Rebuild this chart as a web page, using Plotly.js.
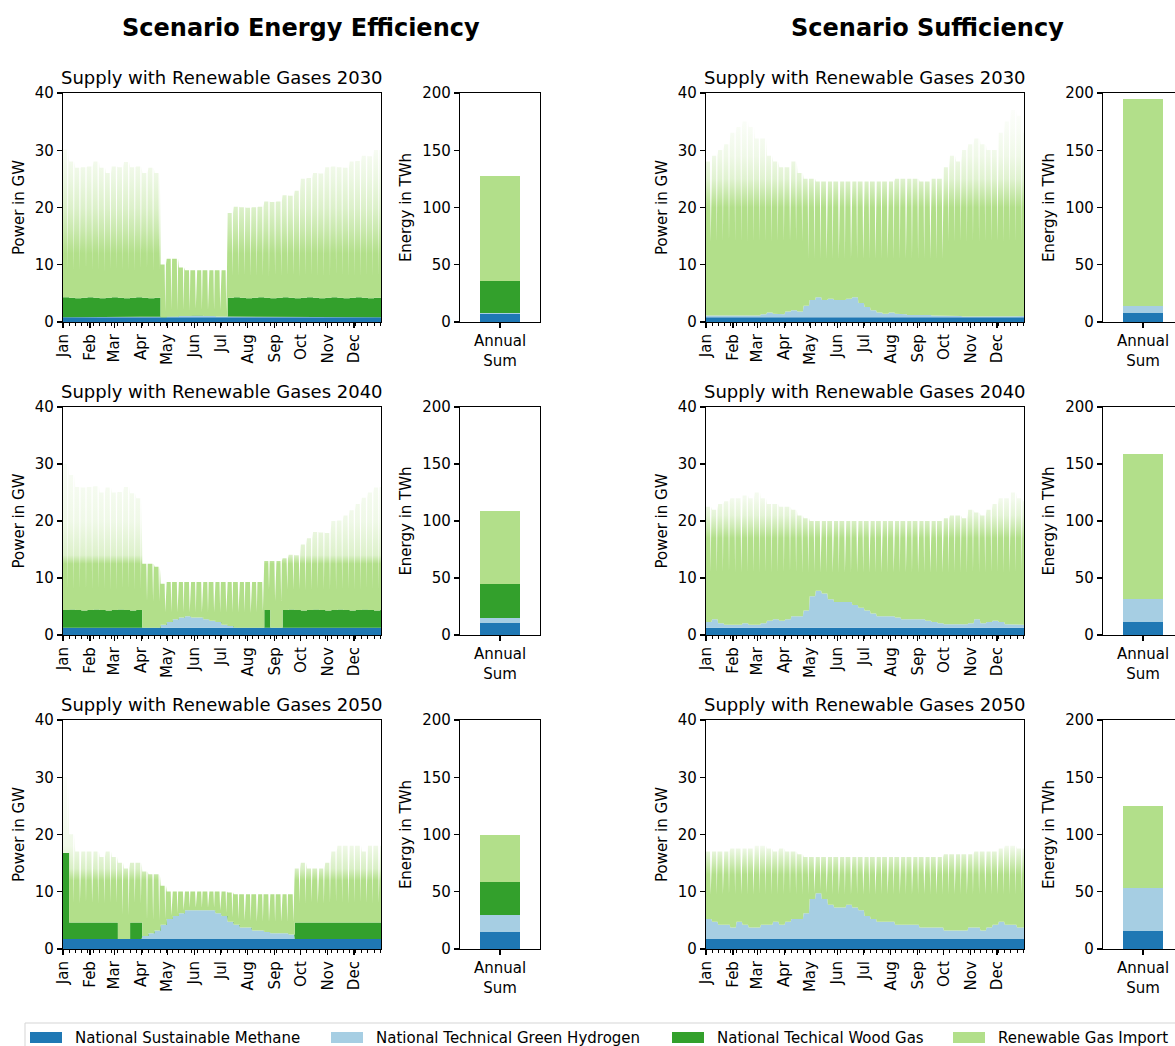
<!DOCTYPE html>
<html>
<head>
<meta charset="utf-8">
<script src="https://cdn.plot.ly/plotly-3.0.1.min.js"></script>
<style>
html,body{margin:0;padding:0;overflow:hidden;background:#ffffff;}
#chart{width:1190px;height:1046px;}
</style>
</head>
<body>
<div id="chart"></div>
<script>
// ---------------- DATA ----------------
const seriesNames = ['National Sustainable Methane','National Technical Green Hydrogen','National Techical Wood Gas','Renewable Gas Import'];
const seriesColors = ['#1f78b4','#a6cee3','#33a02c','#b2df8a'];
const scenarioTitles = ['Scenario Energy Efficiency','Scenario Sufficiency'];
const years = ['2030','2040','2050'];
const barCategory = ['Annual<br>Sum'];

// Annual sums in TWh, order: EE2030, EE2040, EE2050, SS2030, SS2040, SS2050
const barMethane  = [7.3, 10.8, 15.2, 7.5, 11.2, 15.5];
const barHydrogen = [0.2, 4.4, 14.1, 6.8, 20.2, 37.8];
const barWood     = [28.1, 29.3, 29.0, 0, 0, 0];
const barImport   = [92.0, 64.7, 41.3, 180.7, 127.2, 71.6];

// Constant methane feed-in in GW (same order)
const methaneGW = [0.84, 1.28, 1.75, 0.84, 1.28, 1.75];

// Weekly power in GW (53 weeks, starting 1 Jan); imp = weekly level, dip = weekend low of the import
const h2_EE2030 = [0,0,0,0,0,0,0,0,0,0,0,0,0,0,0,0, 0,0.1,0.1,0.2,0.2,0.3,0.3,0.2,0.2,0.1,0.1, 0,0,0,0,0,0,0,0,0,0,0,0,0,0,0,0,0,0,0,0,0,0,0,0,0,0];
const wood_EE2030 = [3.5,3.4,3.3,3.4,3.5,3.4,3.3,3.4,3.5,3.4,3.3,3.4,3.5,3.4,3.3,3.4, 0,0,0,0,0,0,0,0,0,0,0, 3.4,3.5,3.4,3.3,3.4,3.5,3.4,3.3,3.4,3.5,3.4,3.3,3.4,3.5,3.4,3.3,3.4,3.5,3.4,3.3,3.4,3.5,3.4,3.3,3.4,3.4];
const imp_EE2030 = [25.8,23.8,22.8,22.8,22.8,23.8,22.8,21.8,22.8,22.8,23.8,22.8,22.8,21.8,22.8,21.8, 9.2,10.1,10.1,8.5,8.0,7.9,7.9,8.0,8.0,8.1,8.1, 14.8,15.8,15.8,15.8,15.8,15.8,16.8,16.8,16.8,17.8,17.8,18.8,20.8,20.8,21.8,21.8,22.8,22.8,22.8,22.8,23.8,23.8,24.8,24.8,25.8,25.8];
const dip_EE2030 = [4.8,4.6,4.9,4.8,4.7,4.8,4.6,4.9,4.8,4.7,4.8,4.6,4.9,4.8,4.7,4.8, 1.0,1.2,1.0,1.1,1.0,1.2,1.0,1.1,1.0,1.2,1.0, 3.8,3.6,3.9,3.8,3.7,3.8,3.6,3.9,3.8,3.7,3.8,3.6,3.9,3.8,3.7,3.8,3.6,3.9,3.8,3.7,3.8,3.6,3.9,3.8,3.7,3.8];

const h2_EE2040 = [0,0,0,0,0,0,0,0,0,0,0,0,0,0,0,0, 0.5,1.0,1.5,1.8,2.0,1.8,1.8,1.5,1.2,1.0,0.5,0.3, 0,0,0,0,0,0,0,0,0,0,0,0,0,0,0,0,0,0,0,0,0,0,0,0,0];
const wood_EE2040 = [3.1,3.2,3.1,3.0,3.1,3.2,3.1,3.0,3.1,3.2,3.1,3.0,3.1, 0,0,0,0,0,0,0,0,0,0,0,0,0,0,0,0,0,0,0,0, 3.1,0,0, 3.1,3.2,3.1,3.0,3.1,3.2,3.1,3.0,3.1,3.2,3.1,3.0,3.1,3.2,3.1,3.0,3.1];
const imp_EE2040 = [25.6,23.6,21.6,21.6,21.6,21.6,20.6,21.6,20.6,20.6,21.6,20.6,19.6, 11.2,11.2,10.7, 7.2,7.0,6.5,6.2,6.0,6.2,6.2,6.5,6.8,7.0,7.5,7.7, 8.0,8.0,8.0,8.0,8.0, 8.6,11.7,11.7, 9.1,9.6,9.6,11.6,12.6,13.6,13.6,13.6,15.6,15.6,16.6,17.6,18.6,19.6,20.6,21.6,21.6];
const dip_EE2040 = [3.6,3.5,3.7,3.6,3.5,3.6,3.7,3.6,3.5,3.6,3.7,3.6,3.5, 4.7,4.6,4.7, 2.2,1.7,1.2,0.9,0.7,0.9,0.9,1.2,1.5,1.7,2.2,2.4, 2.7,2.7,2.6,2.7,2.7, 3.6,4.7,4.7, 3.6,3.5,3.7,3.6,3.5,3.6,3.7,3.6,3.5,3.6,3.7,3.6,3.5,3.6,3.7,3.6,3.5];

const h2_EE2050 = [0,0,0,0,0,0,0,0,0,0,0,0,0, 0.5,1.0,1.5,2.5,3.5,4.0,4.5,5.0,5.0,5.0,5.0,5.0,4.5,4.0,3.0,2.5,2.0,2.0,1.5,1.5,1.2,1.0,1.0,1.0,0.8, 0,0,0,0,0,0,0,0,0,0,0,0,0,0,0];
const wood_EE2050 = [15.0, 2.9,2.9,2.9,2.9,2.9,2.9,2.9,2.9, 0,0, 2.9,2.9, 0,0,0,0,0,0,0,0,0,0,0,0,0,0,0,0,0,0,0,0,0,0,0,0,0, 2.9,2.9,2.9,2.9,2.9,2.9,2.9,2.9,2.9,2.9,2.9,2.9,2.9,2.9,2.9];
const imp_EE2050 = [13.3,15.4,12.4,12.4,12.4,12.4,11.4,12.4,11.4, 13.3,12.3, 10.4,10.4, 11.3,10.3,9.8,6.8,4.8,4.3,3.8,3.3,3.3,3.3,3.3,3.3,3.8,4.3,5.1,5.3,5.8,5.8,6.3,6.3,6.6,6.8,6.8,6.8,7.0, 9.4,10.4,9.4,9.4,9.4,10.4,12.4,13.4,13.4,13.4,13.4,12.4,13.4,13.4,13.4];
const dip_EE2050 = [2.3, 3.4,3.3,3.5,3.4,3.3,3.4,3.5,3.4, 4.3,4.2, 3.4,3.3, 2.8,2.3,1.8,1.0,0.6,0.5,0.5,0.5,0.5,0.5,0.5,0.5,0.5,0.6,0.8,1.0,1.2,1.2,1.5,1.5,1.8,2.0,2.0,2.0,2.2, 3.4,3.3,3.5,3.4,3.3,3.4,3.5,3.4,3.3,3.4,3.5,3.4,3.3,3.4,3.5];

const h2_SS2030 = [0.3,0.2,0.2,0.3,0.2,0.3,0.3,0.2,0.3,0.5,0.8,0.6,0.5, 1.0,1.2,1.0, 2.0,3.0,3.5,3.0,3.2,3.0,3.0,3.2,3.5, 2.5,1.8,1.2,0.8, 0.6,0.8,0.6,0.5,0.4,0.4,0.5,0.4,0.3,0.2, 0.2,0.2,0.2,0.1,0.2,0.2,0.2,0.1,0.2,0.2,0.2,0.1,0.2,0.2];
const imp_SS2030 = [26.9,28.0,29.0,29.9,32.0,32.9,33.9,33.0,30.9,30.7,27.4,26.6,25.7,25.2,26.0,24.2,22.2,21.2,20.2,20.7,20.5,20.7,20.7,20.5,20.2,21.2,21.9,22.5,22.9,23.1,22.9,23.6,23.7,23.8,23.8,23.2,23.3,23.9,24.0,26.0,28.0,27.0,29.1,30.0,31.0,30.0,29.1,29.0,32.0,34.0,36.1,35.0,32.0];
const dip_SS2030 = [12.9,13.0,13.0,12.9,13.0,12.9,12.9,13.0,12.9,12.7,12.4,12.6,12.7, 12.2,12.0,12.2, 8.2,7.2,6.7,7.2,7.0,7.2,7.2,7.0,6.7, 7.7,8.4,9.0,9.4, 9.6,9.4,9.6,9.7,9.8,9.8,9.7,9.8,9.9,10.0, 13.0,12.9,13.0,13.1,13.0,12.9,13.0,13.1,13.0,12.9,13.0,13.1,13.0,12.9];

const h2_SS2040 = [1.0,1.5,0.8,0.5,0.5,0.5,0.8,0.5,0.5,0.8,1.2,1.5,1.2, 1.5,2.0,2.0,3.0, 5.5,6.5,6.0,5.0,4.5,4.5,4.5,4.0,3.5,3.0, 2.5,2.0,2.0,2.0,1.8,1.5,1.5,1.5,1.5, 1.2,1.0,0.8,0.6,0.6,0.6,0.6,0.8,1.5,0.8,1.0,1.2,1.0,0.6,0.5,0.5,0.5];
const imp_SS2040 = [20.2,19.2,20.9,21.7,22.2,22.2,22.4,22.2,23.2,21.9,20.5,20.2,20.0,19.7,18.7,17.7,16.2,13.2,12.2,12.7,13.7,14.2,14.2,14.2,14.7,15.2,15.7,16.2,16.7,16.7,16.7,16.9,17.2,17.2,17.2,17.2,17.5,17.7,17.9,18.6,19.1,19.1,18.6,19.9,18.7,18.9,19.7,20.5,21.7,22.1,23.2,22.2,21.7];
const dip_SS2040 = [8.7,8.2,8.9,9.2,9.2,9.2,8.9,9.2,9.2,8.9,8.5,8.2,8.5, 8.2,7.7,7.7,6.7, 4.2,3.2,3.7,4.7,5.2,5.2,5.2,5.7,6.2,6.7, 7.2,7.7,7.7,7.7,7.9,8.2,8.2,8.2,8.2, 8.5,8.7,8.9,9.1,9.1,9.1,9.1,8.9,8.2,8.9,8.7,8.5,8.7,9.1,9.2,9.2,9.2];

const h2_SS2050 = [3.5,3.0,2.5,2.5,2.0,3.0,2.5,2.0,2.0,2.5,2.5,3.0,2.5, 3.0,3.5,3.5,4.5, 7.0,8.0,7.0,6.0,5.5,5.5,6.0,5.5,5.0,4.0, 3.5,3.0,3.0,3.0,2.5,2.5,2.5,2.5,2.0,2.0,2.0,2.0, 1.5,1.5,1.5,1.5,2.0,2.0,1.5,2.0,2.5,3.0,2.5,2.5,2.0,2.0];
const imp_SS2050 = [11.8,12.3,12.8,12.8,13.8,12.8,13.3,13.8,14.3,13.8,13.3,12.3,13.3,12.3,11.8,11.3,9.8,7.3,6.3,7.3,8.3,8.8,8.8,8.3,8.8,9.3,10.3,10.8,11.3,11.3,11.3,11.8,11.8,11.8,11.8,12.3,12.3,12.3,12.3,13.3,13.3,13.3,13.3,12.8,13.3,13.8,13.3,12.8,12.8,13.8,13.8,13.8,13.8];
const dip_SS2050 = [4.3,4.8,5.3,5.3,5.8,4.8,5.3,5.8,5.8,5.3,5.3,4.8,5.3, 4.8,4.3,4.3,3.3, 1.0,0.5,1.0,1.8,2.3,2.3,1.8,2.3,2.8,3.8, 4.3,4.8,4.8,4.8,5.3,5.3,5.3,5.3,5.8,5.8,5.8,5.8, 6.3,6.3,6.3,6.3,5.8,5.8,6.3,5.8,5.3,4.8,5.3,5.3,5.8,5.8];

// ---------------- BUILD ----------------
const W = 1190, H = 1046;
const px = v => v / W;
const py = v => 1 - v / H;
const DAY = 86400000;

// sample times per week: week start, weekend low begins, weekend low, weekend low ends
const sampleX = [];
for (let k = 0; k < 53; k++) {
  const t = Date.UTC(2030, 0, 1 + 7 * k);
  sampleX.push(t, t + 4.6 * DAY, t + 5.4 * DAY, t + 6.2 * DAY);
}
const hold = arr => arr.flatMap(v => [v, v, v, v]);
const withDip = (arr, dip) => arr.flatMap((v, k) => [v, v, dip[k], v]);

// fade of the import area (style): [GW level, opacity]
const fadeStops = [
  [[0,1],[12,1],[16,0.7],[20,0.45],[25,0.25],[30,0.1],[40,0]],
  [[0,1],[12.5,1],[14,0.45],[20,0.2],[28,0.1],[40,0]],
  [[0,1],[12,1],[14,0.5],[18,0.2],[30,0.05],[40,0]],
  [[0,1],[20,1],[22,0.75],[25,0.4],[29,0.2],[34,0.08],[40,0]],
  [[0,1],[17,1],[19,0.65],[21,0.35],[24,0.15],[30,0.05],[40,0]],
  [[0,1],[13,1],[15,0.65],[16.5,0.4],[18,0.15],[21,0],[40,0]]
];

const panels = [
  {h2: h2_EE2030, wood: wood_EE2030, imp: imp_EE2030, dip: dip_EE2030},
  {h2: h2_EE2040, wood: wood_EE2040, imp: imp_EE2040, dip: dip_EE2040},
  {h2: h2_EE2050, wood: wood_EE2050, imp: imp_EE2050, dip: dip_EE2050},
  {h2: h2_SS2030, wood: null, imp: imp_SS2030, dip: dip_SS2030},
  {h2: h2_SS2040, wood: null, imp: imp_SS2040, dip: dip_SS2040},
  {h2: h2_SS2050, wood: null, imp: imp_SS2050, dip: dip_SS2050}
];

const areaX = [[63, 381], [706, 1024]];
const barX = [[460, 540], [1103, 1183]];
const rowY = [[93, 322], [407, 635], [720, 949]];

const FONT = 'DejaVu Sans';
const traces = [];
const layout = {
  width: W, height: H,
  margin: {l: 0, r: 0, t: 0, b: 0},
  paper_bgcolor: '#ffffff', plot_bgcolor: '#ffffff',
  font: {family: FONT, size: 15, color: '#000000'},
  showlegend: false,
  barmode: 'stack',
  annotations: [], shapes: []
};

const axisCommon = {
  showline: true, mirror: true, linecolor: '#000000', linewidth: 1.1,
  ticks: 'outside', ticklen: 5, tickwidth: 1.1, tickcolor: '#000000',
  showgrid: false, zeroline: false, fixedrange: true,
  tickfont: {family: FONT, size: 15, color: '#000000'}
};

panels.forEach((p, i) => {
  const col = Math.floor(i / 3), row = i % 3;
  const n = i + 1, nb = i + 7;
  const ax = areaX[col], bx = barX[col], ry = rowY[row];

  const methaneSeries = sampleX.map(() => methaneGW[i]);
  const common = {x: sampleX, xaxis: 'x' + n, yaxis: 'y' + n, stackgroup: 'g' + n,
                  mode: 'lines', line: {width: 0, shape: 'hv'}, hoverinfo: 'skip'};
  traces.push(Object.assign({}, common, {name: seriesNames[0], y: methaneSeries, fillcolor: seriesColors[0]}));
  traces.push(Object.assign({}, common, {name: seriesNames[1], y: hold(p.h2), fillcolor: seriesColors[1],
                                         line: {width: 0, shape: 'linear'}}));
  if (p.wood) traces.push(Object.assign({}, common, {name: seriesNames[2], y: hold(p.wood), fillcolor: seriesColors[2]}));
  traces.push(Object.assign({}, common, {
    name: seriesNames[3], y: withDip(p.imp, p.dip), fillcolor: seriesColors[3],
    line: {width: 0, shape: 'linear'},
    fillgradient: {type: 'vertical', start: 0, stop: 40,
      colorscale: fadeStops[i].map(s => [s[0] / 40, 'rgba(178,223,138,' + s[1] + ')'])}
  }));

  // bars
  const barVals = [barMethane, barHydrogen, barWood, barImport];
  barVals.forEach((vals, s) => {
    if (col === 1 && s === 2) return;
    traces.push({type: 'bar', x: barCategory, y: [vals[i]], xaxis: 'x' + nb, yaxis: 'y' + nb,
                 name: seriesNames[s], marker: {color: seriesColors[s], line: {width: 0}},
                 width: 1, hoverinfo: 'skip'});
  });

  layout['xaxis' + n] = Object.assign({}, axisCommon, {
    domain: [px(ax[0]), px(ax[1])], anchor: 'y' + n, type: 'date',
    range: ['2030-01-01', '2030-12-31 23:00'], dtick: 'M1', tick0: '2030-01-01',
    tickformat: '%b', tickangle: -90,
    minor: {ticks: 'outside', ticklen: 3, tickwidth: 1, tickcolor: '#000000',
            dtick: 7 * DAY, tick0: '2030-01-01', showgrid: false}
  });
  layout['yaxis' + n] = Object.assign({}, axisCommon, {
    domain: [py(ry[1]), py(ry[0])], anchor: 'x' + n, range: [0, 40], dtick: 10,
    title: {text: 'Power in GW', font: {family: FONT, size: 15, color: '#000000'}, standoff: 6}
  });
  layout['xaxis' + nb] = Object.assign({}, axisCommon, {
    domain: [px(bx[0]), px(bx[1])], anchor: 'y' + nb, type: 'category', range: [-1, 1]
  });
  layout['yaxis' + nb] = Object.assign({}, axisCommon, {
    domain: [py(ry[1]), py(ry[0])], anchor: 'x' + nb, range: [0, 200], dtick: 50,
    title: {text: 'Energy in TWh', font: {family: FONT, size: 15, color: '#000000'}, standoff: 7}
  });

  layout.annotations.push({
    text: 'Supply with Renewable Gases ' + years[row], xref: 'paper', yref: 'paper',
    x: px((ax[0] + ax[1]) / 2), y: py(ry[0]), xanchor: 'center', yanchor: 'bottom', yshift: 3,
    showarrow: false, font: {family: FONT, size: 18, color: '#000000'}
  });
});

// scenario titles
[[301, 0], [927, 1]].forEach(([cx, s]) => {
  layout.annotations.push({
    text: '<b>' + scenarioTitles[s] + '</b>', xref: 'paper', yref: 'paper',
    x: px(cx), y: py(28), xanchor: 'center', yanchor: 'middle', showarrow: false,
    font: {family: FONT, size: 24, color: '#000000'}
  });
});

// figure legend
layout.shapes.push({type: 'rect', xref: 'paper', yref: 'paper', x0: px(25), x1: px(1200), y0: py(1060), y1: py(1023),
                    line: {color: '#d5d5d5', width: 1}, fillcolor: 'rgba(255,255,255,0.8)', layer: 'above'});
const legPatchX = [30, 331, 672, 953];
seriesNames.forEach((name, s) => {
  layout.shapes.push({type: 'rect', xref: 'paper', yref: 'paper', x0: px(legPatchX[s]), x1: px(legPatchX[s] + 32),
                      y0: py(1043), y1: py(1032), line: {width: 0}, fillcolor: seriesColors[s], layer: 'above'});
  layout.annotations.push({text: name, xref: 'paper', yref: 'paper', x: px(legPatchX[s] + 43), y: py(1038),
                           xanchor: 'left', yanchor: 'middle', showarrow: false,
                           font: {family: FONT, size: 15, color: '#000000'}});
});

Plotly.newPlot('chart', traces, layout, {staticPlot: true, displayModeBar: false});
</script>
</body>
</html>
